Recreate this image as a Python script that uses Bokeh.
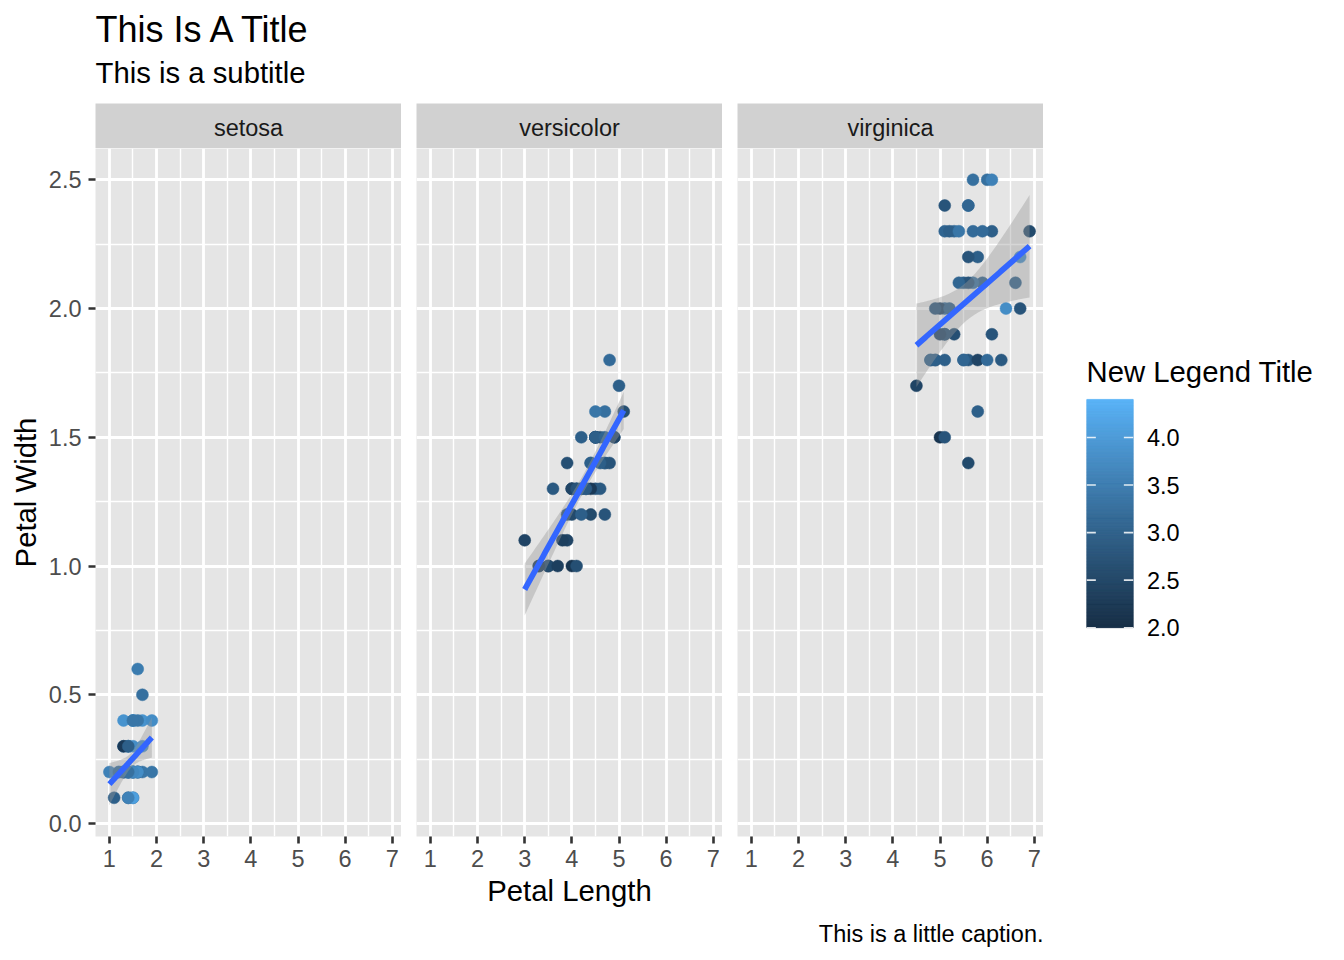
import numpy as np
from bokeh.plotting import figure
from bokeh.models import (Range1d, FixedTicker, LinearColorMapper, Label,
                          ColumnDataSource, PrintfTickFormatter)
from bokeh.core.properties import value
from bokeh.layouts import column, row
from bokeh.transform import transform
from bokeh.embed import file_html
from bokeh.resources import INLINE

# ---------------- data (iris) ----------------
species = ["setosa", "versicolor", "virginica"]

setosa_petal_length = [1.4,1.4,1.3,1.5,1.4,1.7,1.4,1.5,1.4,1.5,1.5,1.6,1.4,1.1,1.2,1.5,1.3,1.4,1.7,1.5,
                       1.7,1.5,1.0,1.7,1.9,1.6,1.6,1.5,1.4,1.6,1.6,1.5,1.5,1.4,1.5,1.2,1.3,1.4,1.3,1.5,
                       1.3,1.3,1.3,1.6,1.9,1.4,1.6,1.4,1.5,1.4]
setosa_petal_width = [0.2,0.2,0.2,0.2,0.2,0.4,0.3,0.2,0.2,0.1,0.2,0.2,0.1,0.1,0.2,0.4,0.4,0.3,0.3,0.3,
                      0.2,0.4,0.2,0.5,0.2,0.2,0.4,0.2,0.2,0.2,0.2,0.4,0.1,0.2,0.2,0.2,0.2,0.1,0.2,0.2,
                      0.3,0.3,0.2,0.6,0.4,0.3,0.2,0.2,0.2,0.2]
setosa_sepal_width = [3.5,3.0,3.2,3.1,3.6,3.9,3.4,3.4,2.9,3.1,3.7,3.4,3.0,3.0,4.0,4.4,3.9,3.5,3.8,3.8,
                      3.4,3.7,3.6,3.3,3.4,3.0,3.4,3.5,3.4,3.2,3.1,3.4,4.1,4.2,3.1,3.2,3.5,3.6,3.0,3.4,
                      3.5,2.3,3.2,3.5,3.8,3.0,3.8,3.2,3.7,3.3]

versicolor_petal_length = [4.7,4.5,4.9,4.0,4.6,4.5,4.7,3.3,4.6,3.9,3.5,4.2,4.0,4.7,3.6,4.4,4.5,4.1,4.5,3.9,
                           4.8,4.0,4.9,4.7,4.3,4.4,4.8,5.0,4.5,3.5,3.8,3.7,3.9,5.1,4.5,4.5,4.7,4.4,4.1,4.0,
                           4.4,4.6,4.0,3.3,4.2,4.2,4.2,4.3,3.0,4.1]
versicolor_petal_width = [1.4,1.5,1.5,1.3,1.5,1.3,1.6,1.0,1.3,1.4,1.0,1.5,1.0,1.4,1.3,1.4,1.5,1.0,1.5,1.1,
                          1.8,1.3,1.5,1.2,1.3,1.4,1.4,1.7,1.5,1.0,1.1,1.0,1.2,1.6,1.5,1.6,1.5,1.3,1.3,1.3,
                          1.2,1.4,1.2,1.0,1.3,1.2,1.3,1.3,1.1,1.3]
versicolor_sepal_width = [3.2,3.2,3.1,2.3,2.8,2.8,3.3,2.4,2.9,2.7,2.0,3.0,2.2,2.9,2.9,3.1,3.0,2.7,2.2,2.5,
                          3.2,2.8,2.5,2.8,2.9,3.0,2.8,3.0,2.9,2.6,2.4,2.4,2.7,2.7,3.0,3.4,3.1,2.3,3.0,2.5,
                          2.6,3.0,2.6,2.3,2.7,3.0,2.9,2.9,2.5,2.8]

virginica_petal_length = [6.0,5.1,5.9,5.6,5.8,6.6,4.5,6.3,5.8,6.1,5.1,5.3,5.5,5.0,5.1,5.3,5.5,6.7,6.9,5.0,
                          5.7,4.9,6.7,4.9,5.7,6.0,4.8,4.9,5.6,5.8,6.1,6.4,5.6,5.1,5.6,6.1,5.6,5.5,4.8,5.4,
                          5.6,5.1,5.1,5.9,5.7,5.2,5.0,5.2,5.4,5.1]
virginica_petal_width = [2.5,1.9,2.1,1.8,2.2,2.1,1.7,1.8,1.8,2.5,2.0,1.9,2.1,2.0,2.4,2.3,1.8,2.2,2.3,1.5,
                         2.3,2.0,2.0,1.8,2.1,1.8,1.8,1.8,2.1,1.6,1.9,2.0,2.2,1.5,1.4,2.3,2.4,1.8,1.8,2.1,
                         2.4,2.3,1.9,2.3,2.5,2.3,1.9,2.0,2.3,1.8]
virginica_sepal_width = [3.3,2.7,3.0,2.9,3.0,3.0,2.5,2.9,2.5,3.6,3.2,2.7,3.0,2.5,2.8,3.2,3.0,3.8,2.6,2.2,
                         3.2,2.8,2.8,2.7,3.3,3.2,2.8,3.0,2.8,3.0,2.8,3.8,2.8,2.8,2.6,3.0,3.4,3.1,3.0,3.1,
                         3.1,3.1,2.7,3.2,3.3,3.0,2.5,3.0,3.4,3.0]

x_ticks = [1, 2, 3, 4, 5, 6, 7]
x_minor = [1.5, 2.5, 3.5, 4.5, 5.5, 6.5]
y_ticks = [0.0, 0.5, 1.0, 1.5, 2.0, 2.5]
y_minor = [0.25, 0.75, 1.25, 1.75, 2.25]
legend_ticks = [2.0, 2.5, 3.0, 3.5, 4.0]
legend_tick_labels = ["2.0", "2.5", "3.0", "3.5", "4.0"]
color_low, color_high = 2.0, 4.4

title_text = "This Is A Title"
subtitle_text = "This is a subtitle"
caption_text = "This is a little caption."
x_label = "Petal Length"
y_label = "Petal Width"
legend_title = "New Legend Title"

groups = {
    "setosa": (setosa_petal_length, setosa_petal_width, setosa_sepal_width),
    "versicolor": (versicolor_petal_length, versicolor_petal_width, versicolor_sepal_width),
    "virginica": (virginica_petal_length, virginica_petal_width, virginica_sepal_width),
}

FONT = "Liberation Sans"
T975 = 2.0106  # qt(0.975, 48)

# ---------------- colour scale (ggplot default gradient, Lab interpolation) ----------------
M = np.array([[0.4124564, 0.3575761, 0.1804375],
              [0.2126729, 0.7151522, 0.0721750],
              [0.0193339, 0.1191920, 0.9503041]])
WHITE = np.array([0.95047, 1.0, 1.08883])
D = 6 / 29


def hex2lab(h):
    rgb = np.array([int(h[i:i + 2], 16) for i in (1, 3, 5)]) / 255.0
    c = np.where(rgb <= 0.04045, rgb / 12.92, ((rgb + 0.055) / 1.055) ** 2.4)
    xyz = (M @ c) / WHITE
    f = np.where(xyz > D ** 3, np.cbrt(xyz), xyz / (3 * D * D) + 4 / 29)
    return np.array([116 * f[1] - 16, 500 * (f[0] - f[1]), 200 * (f[1] - f[2])])


def lab2hex(lab):
    L, a, b = lab
    fy = (L + 16) / 116
    f = np.array([fy + a / 500, fy, fy - b / 200])
    xyz = np.where(f > D, f ** 3, 3 * D * D * (f - 4 / 29)) * WHITE
    c = np.clip(np.linalg.inv(M) @ xyz, 0, 1)
    rgb = np.where(c <= 0.0031308, 12.92 * c, 1.055 * c ** (1 / 2.4) - 0.055)
    return "#%02x%02x%02x" % tuple(int(round(v * 255)) for v in np.clip(rgb, 0, 1))


lab_lo, lab_hi = hex2lab("#132B43"), hex2lab("#56B1F7")
palette = [lab2hex(lab_lo + (lab_hi - lab_lo) * t) for t in np.linspace(0, 1, 256)]
mapper = LinearColorMapper(palette=palette, low=color_low, high=color_high)

# ---------------- smoothing (lm with 95% CI) ----------------
fits = {}
all_y = []
all_x = []
for sp in species:
    x = np.array(groups[sp][0]); y = np.array(groups[sp][1])
    n = len(x)
    b1, b0 = np.polyfit(x, y, 1)
    resid = y - (b0 + b1 * x)
    s = np.sqrt(np.sum(resid ** 2) / (n - 2))
    sxx = np.sum((x - x.mean()) ** 2)
    xs = np.linspace(x.min(), x.max(), 80)
    yh = b0 + b1 * xs
    se = s * np.sqrt(1 / n + (xs - x.mean()) ** 2 / sxx)
    fits[sp] = dict(x=xs, y=yh, lo=yh - T975 * se, hi=yh + T975 * se)
    all_y += list(y) + list(yh - T975 * se) + list(yh + T975 * se)
    all_x += list(x)

xmn, xmx = min(all_x), max(all_x)
ymn, ymx = min(all_y), max(all_y)
xr = Range1d(xmn - 0.05 * (xmx - xmn), xmx + 0.05 * (xmx - xmn))
yr = Range1d(ymn - 0.05 * (ymx - ymn), ymx + 0.05 * (ymx - ymn))

# ---------------- layout constants (page origin at 0,0) ----------------
FW, FH = 306, 691
GAP = 15
LEFT = 95
BOTTOM = 70
HEADER_H = 103
STRIP_H = 45
PANEL_TOP = HEADER_H + STRIP_H          # 148
PANEL_BG = "#E5E5E5"
STRIP_BG = "#D1D1D1"


def blank(width, height, xr_, yr_, left=0, bg="white"):
    p = figure(width=width, height=height, x_range=xr_, y_range=yr_,
               output_backend="svg", toolbar_location=None,
               x_axis_location=None, y_axis_location=None,
               min_border_left=left, min_border_right=0,
               min_border_top=0, min_border_bottom=0,
               background_fill_color=bg,
               border_fill_color="white", outline_line_color=None)
    p.grid.visible = False
    return p


# header
HW = 1320
header = blank(HW, HEADER_H, Range1d(0, HW), Range1d(HEADER_H, 0))
header.add_layout(Label(x=95, y=28.7, text=title_text, text_font=FONT, text_font_size="36px",
                        text_color="black", text_align="left", text_baseline="alphabetic"))
header.add_layout(Label(x=95, y=71.5, text=subtitle_text, text_font=FONT, text_font_size="29.3px",
                        text_color="black", text_align="left", text_baseline="alphabetic"))

# strips
strips = []
for i, sp in enumerate(species):
    left = LEFT if i == 0 else GAP
    s = blank(left + FW, STRIP_H, Range1d(0, FW), Range1d(STRIP_H, 0), left=left, bg=STRIP_BG)
    s.add_layout(Label(x=FW / 2, y=24, text=sp, text_font=FONT, text_font_size="23.5px",
                       text_color="#1A1A1A", text_align="center", text_baseline="alphabetic"))
    strips.append(s)

# panels
panels = []
for i, sp in enumerate(species):
    left = LEFT if i == 0 else GAP
    p = figure(width=left + FW, height=FH + BOTTOM, x_range=xr, y_range=yr,
               output_backend="svg", toolbar_location=None,
               y_axis_location="left" if i == 0 else None,
               min_border_left=left, min_border_right=0, min_border_top=0,
               min_border_bottom=BOTTOM, background_fill_color=PANEL_BG,
               border_fill_color="white", outline_line_color=None)
    p.xgrid.ticker = FixedTicker(ticks=x_ticks, minor_ticks=x_minor)
    p.ygrid.ticker = FixedTicker(ticks=y_ticks, minor_ticks=y_minor)
    for g in (p.xgrid, p.ygrid):
        g.grid_line_color = "white"
        g.grid_line_width = 2.8
        g.minor_grid_line_color = "white"
        g.minor_grid_line_width = 1.4
    axes = list(p.xaxis) + (list(p.yaxis) if i == 0 else [])
    for ax in axes:
        ax.axis_line_color = None
        ax.major_tick_out = 7
        ax.major_tick_in = 0
        ax.major_tick_line_color = "#333333"
        ax.major_tick_line_width = 2.6
        ax.minor_tick_line_color = None
        ax.major_label_text_font = FONT
        ax.major_label_text_font_size = "23.5px"
        ax.major_label_text_color = "#4D4D4D"
        ax.axis_label_text_font = FONT
        ax.axis_label_text_font_size = "29.3px"
        ax.axis_label_text_font_style = "normal"
        ax.axis_label_text_color = "black"
    p.xaxis.ticker = FixedTicker(ticks=x_ticks)
    p.xaxis.major_label_standoff = 6
    if i == 0:
        p.yaxis.ticker = FixedTicker(ticks=y_ticks)
        p.yaxis.formatter = PrintfTickFormatter(format="%.1f")
        p.yaxis.major_label_standoff = 7
        p.yaxis.axis_label = y_label
        p.yaxis.axis_label_standoff = 4
    if i == 1:
        p.xaxis.axis_label = x_label
        p.xaxis.axis_label_standoff = 4

    pl, pw, sw = groups[sp]
    src = ColumnDataSource(dict(pl=pl, pw=pw, sw=sw))
    p.scatter("pl", "pw", source=src, size=12, fill_color=transform("sw", mapper),
              line_color=transform("sw", mapper), line_width=0.5)
    f = fits[sp]
    p.varea(x=f["x"], y1=f["lo"], y2=f["hi"], fill_color="#999999", fill_alpha=0.4)
    p.line(x=f["x"], y=f["y"], line_color="#3366FF", line_width=5.7)
    panels.append(p)

# legend (colour bar); its frame shares the panels' top/bottom borders
LG_LEFT, LG_FRAME_W = 43, 244
BAR_W = 46.7
BAR_TOP_PX, BAR_BOT_PX = 400.0, 629.3          # where the bar sits on the page
k = (BAR_BOT_PX - BAR_TOP_PX) / (color_high - color_low)
frame_bot_px = PANEL_TOP + FH
lg_y0 = color_low - (frame_bot_px - BAR_BOT_PX) / k
lg_y1 = color_high + (BAR_TOP_PX - PANEL_TOP) / k
leg = figure(width=LG_LEFT + LG_FRAME_W, height=FH + BOTTOM,
             x_range=Range1d(0, LG_FRAME_W / BAR_W), y_range=Range1d(lg_y0, lg_y1),
             output_backend="svg", toolbar_location=None,
             x_axis_location=None, y_axis_location=None,
             min_border_left=LG_LEFT, min_border_right=0, min_border_top=0,
             min_border_bottom=BOTTOM,
             background_fill_color="white", border_fill_color="white", outline_line_color=None)
leg.grid.visible = False

edges = np.linspace(color_low, color_high, 301)
bar = ColumnDataSource(dict(b=edges[:-1], t=edges[1:], mid=(edges[:-1] + edges[1:]) / 2))
leg.quad(left=0, right=1, bottom="b", top="t", source=bar,
         fill_color=transform("mid", mapper), line_color=transform("mid", mapper), line_width=0.6)
leg.segment(x0=0, x1=0.2, y0=legend_ticks, y1=legend_ticks, line_color="white", line_width=1.6, line_alpha=0.85)
leg.segment(x0=0.8, x1=1, y0=legend_ticks, y1=legend_ticks, line_color="white", line_width=1.6, line_alpha=0.85)
label_x = (1146.7 - 1086.3) / BAR_W
leg.text(x=[label_x] * len(legend_ticks), y=legend_ticks, text=legend_tick_labels,
         text_font=value(FONT), text_font_size=value("23.5px"), text_color="black",
         text_align="left", text_baseline="middle")
title_y = color_high + (BAR_TOP_PX - 371.7) / k
leg.add_layout(Label(x=0, y=title_y, text=legend_title, text_font=FONT, text_font_size="29.3px",
                     text_color="black", text_align="left", text_baseline="alphabetic"))

# footer
FOOT_W, FOOT_H = 1100, 48
footer = blank(FOOT_W, FOOT_H, Range1d(0, FOOT_W), Range1d(FOOT_H, 0))
footer.add_layout(Label(x=1043, y=24.7, text=caption_text, text_font=FONT, text_font_size="23.5px",
                        text_color="black", text_align="right", text_baseline="alphabetic"))

layout = column(header, row(*strips), row(*panels, leg), footer)
open("out.html", "w").write(file_html(layout, INLINE))
